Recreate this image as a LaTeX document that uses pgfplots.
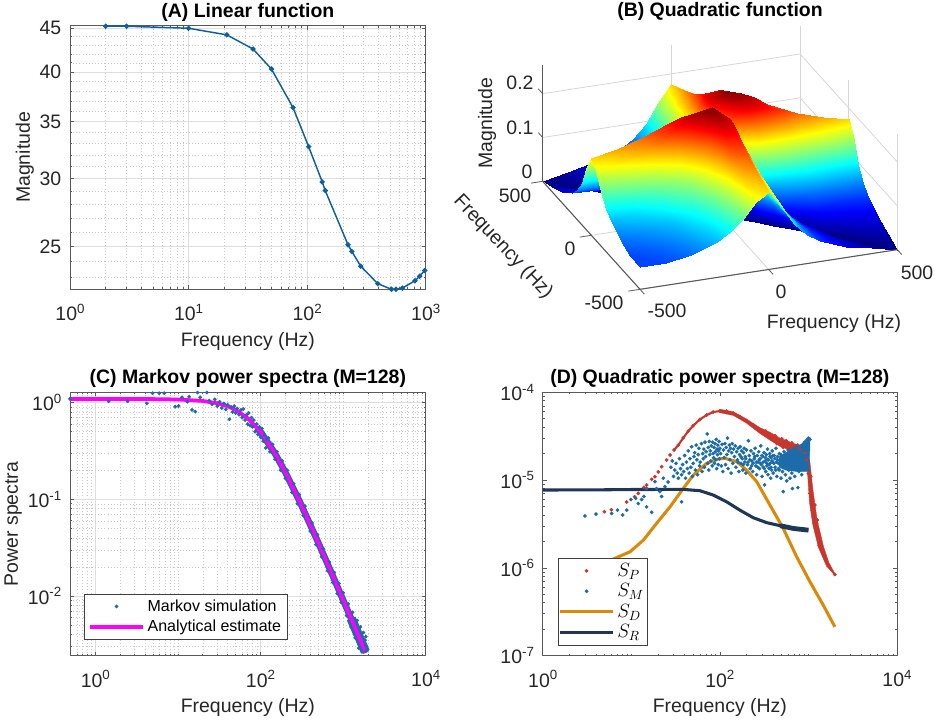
\documentclass[border=0pt]{standalone}
\usepackage{pgfplots}
\usepackage{fontspec}
\setmainfont{Liberation Sans}
\pgfplotsset{compat=1.18}

\definecolor{axgray}{gray}{0.35}
\definecolor{txt}{gray}{0.15}
\definecolor{lineblue}{HTML}{0F5F9E}
\definecolor{dotblue}{HTML}{1B6CA8}
\definecolor{dotred}{HTML}{C8372D}
\definecolor{lineorange}{HTML}{D98A0B}
\definecolor{linenavy}{HTML}{1F3654}
\definecolor{mag}{RGB}{255,0,255}

\newcommand{\lab}{\fontsize{14.6}{16}\selectfont}
\newcommand{\ttl}{\fontsize{14.6}{16}\selectfont\bfseries}
\newcommand{\tp}[1]{10\raisebox{0.72ex}{\fontsize{10}{10}\selectfont #1}}

\pgfplotsset{
  panel/.style={
    scale only axis,
    width=266.8pt, height=197.6pt,
    tick align=inside, ticks=both,
    xtick pos=both, ytick pos=both,
    axis line style={axgray,line width=0.7pt},
    tick style={axgray,line width=0.5pt},
    major tick length=3pt, minor tick length=1.6pt,
    tick label style={font=\lab,text=txt},
    xticklabel style={yshift=-7.5pt},
    yticklabel style={xshift=-3pt},
    xlabel near ticks, ylabel near ticks,
    xlabel style={font=\lab,text=txt,yshift=-1.5pt},
    ylabel style={font=\lab,text=txt,yshift=-2.5pt},
    title style={font=\ttl,yshift=-6.3pt},
    legend image code/.code={\draw[mark repeat=2,mark phase=2,##1] plot coordinates {(0cm,0cm) (0.7cm,0cm) (1.4cm,0cm)};},
  },
  gridded/.style={
    grid=both,
    major grid style={black!13,line width=0.7pt},
    minor grid style={black!22,line width=0.35pt,dotted},
  },
}

\begin{document}
\begin{tikzpicture}[x=0.75pt,y=0.75pt]
\path[use as bounding box] (0,0) rectangle (935,721);

% (A)
\begin{axis}[panel,gridded,at={(52.5pt,323.78pt)},anchor=south west,
  title={(A) Linear function},
  xmode=log, ymode=log, clip=false,
  xmin=1, xmax=1000, ymin=22.28, ymax=45.3,
  xtick={1,10,100,1000},
  xticklabels={\tp{0},\tp{1},\tp{2},\tp{3}},
  minor xtick={2,3,4,5,6,7,8,9,20,30,40,50,60,70,80,90,200,300,400,500,600,700,800,900},
  ytick={25,30,35,40,45}, yticklabels={25,30,35,40,45},
  minor ytick={23,24,26,27,28,29,31,32,33,34,36,37,38,39,41,42,43,44},
  xlabel={Frequency (Hz)}, ylabel={Magnitude}]
\addplot[lineblue,line width=1.1pt,mark=*,mark size=1.35pt] coordinates {
  (2,45.25) (3,45.25) (10,45.0) (21,44.21) (35,42.55) (50,40.32) (76,36.35)
  (103,32.71) (134,29.75) (142,29.07) (221,25.12) (238,24.67) (283,23.71)
  (394,22.62) (514,22.28) (562,22.28) (635,22.35) (813,22.80) (889,23.08) (981,23.44)
};
\end{axis}

% (C)
\begin{axis}[panel,gridded,at={(52.5pt,48.98pt)},anchor=south west,
  title={(C) Markov power spectra (M=128)},
  xmode=log, ymode=log,
  xmin=0.494, xmax=10000, ymin=0.00242, ymax=1.28,
  xtick={1,100,10000},
  xticklabels={\tp{0},\tp{2},\tp{4}},
  minor xtick={0.5,0.6,0.7,0.8,0.9,2,3,4,5,6,7,8,9,10,20,30,40,50,60,70,80,90,200,300,400,500,600,700,800,900,1000,2000,3000,4000,5000,6000,7000,8000,9000},
  ytick={0.01,0.1,1},
  yticklabels={\tp{-2},\tp{-1},\tp{0}},
  minor ytick={0.003,0.004,0.005,0.006,0.007,0.008,0.009,0.02,0.03,0.04,0.05,0.06,0.07,0.08,0.09,0.2,0.3,0.4,0.5,0.6,0.7,0.8,0.9},
  xlabel={Frequency (Hz)}, ylabel={Power spectra},
  legend style={at={(0.039,0.234)},anchor=north west,font=\fontsize{12}{14}\selectfont,
    draw=black!75,fill=white,cells={anchor=west},row sep=1pt},
  legend cell align=left]
% dense part of the cloud
\addplot[dotblue,line width=4.9pt,forget plot] coordinates {
  (90,0.55) (100,0.5) (150,0.297) (200,0.19) (300,0.0939) (500,0.0357)
  (800,0.01423) (1000,0.00909) (1500,0.00409) (1880,0.0026)
};
\addplot[dotblue,line width=7pt,forget plot] coordinates {
  (1250,0.00588) (1500,0.00409) (1860,0.00265)
};
\addplot[only marks,mark=*,mark size=1.2pt,dotblue] coordinates {
  (0.494,1.09) (1.45,1.03) (2.46,1.03) (2.99,1.29) (4.21,0.984) (4.93,1.25)
  (5.94,1.25) (6.83,1.25) (9.28,0.909) (10.2,0.924) (11.2,1.135) (13.7,1.15)
  (14.8,0.84) (16.2,0.807) (17.3,1.27) (18.6,1.135) (22.4,1.27) (13.0,1.02)
  (24,1.05) (26,0.96) (28,1.08) (30,0.92) (32,1.02) (34,0.88) (36,0.98) (38,0.85)
  (40,0.95) (42,0.673) (44,0.9) (46,0.80) (48,0.92) (50,0.78) (52,0.87) (55,0.75)
  (58,0.84) (60,0.70) (62,0.86) (65,0.66) (68,0.75) (70,0.60) (72,0.78) (75,0.58)
  (78,0.70) (80,0.56) (83,0.66) (86,0.50) (90,0.60) (93,0.47) (97,0.56) (100,0.44)
  (104,0.54) (108,0.40) (112,0.46) (116,0.34) (120,0.42) (125,0.43) (130,0.31)
  (140,0.37) (150,0.26) (158,0.31) (175,0.20) (183,0.25) (200,0.165) (210,0.20)
  (240,0.118) (252,0.145) (280,0.09) (295,0.112) (330,0.068) (345,0.085)
  (400,0.047) (420,0.057) (470,0.034) (490,0.043) (550,0.0255) (575,0.031)
  (650,0.0183) (680,0.0225) (750,0.0138) (780,0.0175) (850,0.0106) (890,0.0135)
  (950,0.0086) (1000,0.0108) (1100,0.0063) (1150,0.0083) (1250,0.0048) (1300,0.0068)
  (1400,0.0037) (1480,0.0056) (1550,0.0029) (1620,0.0048) (1700,0.0024) (1760,0.0042)
  (1880,0.0024) (1880,0.0038) (1870,0.0031) (1880,0.0027) (1840,0.0035)
};
\addlegendentry{Markov simulation}
\addplot[mag,line width=2.8pt] coordinates {
  (0.494,1.09) (1,1.09) (5,1.087) (10,1.077) (20,1.04) (30,0.985) (40,0.917)
  (50,0.841) (70,0.69) (100,0.5) (150,0.297) (200,0.19) (300,0.0939)
  (500,0.0357) (800,0.01423) (1000,0.00909) (1500,0.00409) (1880,0.0026)
};
\addlegendentry{Analytical estimate}
\end{axis}

% (D)
\begin{axis}[panel,at={(407.03pt,48.98pt)},anchor=south west,width=265.7pt,
  title={(D) Quadratic power spectra (M=128)},
  xmode=log, ymode=log,
  xmin=1, xmax=10000, ymin=1e-7, ymax=1e-4,
  xtick={1,100,10000},
  xticklabels={\tp{0},\tp{2},\tp{4}},
  minor xtick={2,3,4,5,6,7,8,9,10,20,30,40,50,60,70,80,90,200,300,400,500,600,700,800,900,1000,2000,3000,4000,5000,6000,7000,8000,9000},
  ytick={1e-7,1e-6,1e-5,1e-4},
  yticklabels={\tp{-7},\tp{-6},\tp{-5},\tp{-4}},
  minor ytick={2e-7,3e-7,4e-7,5e-7,6e-7,7e-7,8e-7,9e-7,2e-6,3e-6,4e-6,5e-6,6e-6,7e-6,8e-6,9e-6,2e-5,3e-5,4e-5,5e-5,6e-5,7e-5,8e-5,9e-5},
  xlabel={Frequency (Hz)},
  legend style={at={(0.042,0.372)},anchor=north west,font=\fontsize{14}{15}\selectfont,
    draw=black!75,fill=white,cells={anchor=west},row sep=0pt,inner xsep=0.5pt},
  legend cell align=left]
% dense part of S_P
\addplot[fill=dotred,draw=dotred,line width=0.3pt,forget plot] coordinates {
  (100,6.4e-5) (142,6.0e-5) (200,4.95e-5) (283,3.95e-5) (368,3.5e-5) (478,3.0e-5)
  (600,2.75e-5) (803,2.45e-5) (960,2.2e-5) (1040,1.6e-5) (1120,8e-6) (1250,3.6e-6)
  (1480,1.75e-6) (1700,1.15e-6) (1990,8.6e-7) (1990,8.2e-7) (1600,1.05e-6) (1300,1.7e-6)
  (1120,3.1e-6) (1030,5.5e-6) (990,1e-5) (960,1.6e-5) (900,1.9e-5) (700,2.1e-5)
  (478,2.42e-5) (368,2.85e-5) (283,3.4e-5) (200,4.45e-5) (142,5.45e-5) (100,5.85e-5)
} --cycle;
\addplot[dotred,line width=1.6pt,forget plot] coordinates {
  (30.4,2.2e-5) (34,2.5e-5) (38.7,3.03e-5) (44,3.6e-5) (50,4.16e-5) (59.6,4.9e-5)
  (71,5.5e-5) (84,5.95e-5) (100,6.1e-5)
};
\addplot[only marks,mark=*,mark size=1.2pt,dotred] coordinates {
  (4.97,4.36e-6) (5.96,4.59e-6) (8.87,5.62e-6) (10.9,6.46e-6) (12,7.05e-6) (13.9,8.25e-6)
  (14.9,8.77e-6) (17,1.02e-5) (18.5,1.09e-5) (20.2,1.24e-5) (22,1.42e-5) (25.1,1.69e-5)
  (27.4,1.93e-5) (30.4,2.2e-5) (34,2.5e-5) (38.7,3.03e-5) (44,3.6e-5) (50,4.16e-5)
  (59.6,4.9e-5) (71,5.5e-5) (84,5.95e-5) (100,6.1e-5) (119,6.1e-5) (142,5.75e-5)
  (168,5.27e-5) (200,4.74e-5) (239,4.23e-5) (283,3.71e-5) (337,3.29e-5) (401,3.01e-5)
  (478,2.71e-5) (568,2.53e-5) (676,2.36e-5) (803,2.23e-5) (916,2.01e-5) (955,1.69e-5)
  (1000,1.19e-5) (1040,7.05e-6) (1140,3.83e-6) (1240,2.46e-6) (1470,1.46e-6)
  (1680,1.08e-6) (1990,8.4e-7)
  (330,3.6e-5) (420,3.2e-5) (500,2.95e-5) (560,2.8e-5) (650,2.65e-5) (760,2.5e-5)
  (440,2.6e-5) (520,2.35e-5) (610,2.25e-5) (1060,1.1e-5) (1090,6e-6) (1110,4.5e-6)
  (1180,5.2e-6) (1260,3.5e-6) (1320,1.8e-6)
};
\addlegendentry{$S_P$}
% dense part of S_M
\addplot[fill=dotblue,draw=dotblue,line width=0.3pt,forget plot] coordinates {
  (470,1.85e-5) (550,2.05e-5) (700,2.3e-5) (850,2.6e-5) (950,2.85e-5)
  (1040,3.05e-5) (1040,2.3e-5) (1020,1.5e-5) (990,1.3e-5) (900,1.25e-5) (750,1.25e-5)
  (550,1.3e-5) (470,1.4e-5)
} --cycle;
\addplot[only marks,mark=*,mark size=1.2pt,dotblue] coordinates {
  (3,3.9e-6) (4,4.1e-6) (6,4.17e-6) (7,4.55e-6) (8,4e-6) (8.9,4.55e-6) (9.9,6e-6)
  (11.2,6.2e-6) (12,5.4e-6) (13.1,6e-6) (13.9,6.5e-6) (14.9,4.95e-6) (17,4.3e-6)
  (14.9,8e-6) (19.3,8e-6) (21,7.4e-6) (22,6.5e-6) (24,8.4e-6) (26,9.5e-6) (23,1.05e-5)
  (18.5,9.6e-6) (37,5.65e-6)
  (28,1.4e-5) (29,1.65e-5) (30,1.1e-5) (31,1.3e-5) (32,1.55e-5) (33,1.2e-5) (34,1.05e-5)
  (35,1.75e-5) (36,1.35e-5) (37,1.15e-5) (38,1.5e-5) (39,1.25e-5) (40,1.9e-5) (41,1.05e-5)
  (42,1.6e-5) (43,1.35e-5) (44,2.15e-5) (45,1.2e-5) (46,1.75e-5) (47,1.4e-5) (48,2.4e-5)
  (49,1.1e-5) (50,1.55e-5) (51,1.85e-5) (52,2.05e-5) (53,1.3e-5) (54,2.5e-5) (55,1.7e-5)
  (56,1.15e-5) (57,1.95e-5) (58,2.3e-5) (59,1.45e-5) (60,1.6e-5)
  (62,2.6e-5) (63,1.25e-5) (64,2e-5) (65,1.75e-5) (66,2.25e-5) (67,1.4e-5) (68,2.7e-5)
  (69,1.85e-5) (70,2.1e-5) (72,3.35e-5) (73,1.55e-5) (74,2.35e-5) (75,1.3e-5) (76,2.75e-5)
  (77,1.95e-5) (78,2.15e-5) (79,1.65e-5) (80,2.45e-5) (82,1.45e-5) (83,2.7e-5) (84,2e-5)
  (85,1.8e-5) (86,2.35e-5) (87,1.55e-5) (88,2.6e-5) (89,2.1e-5) (90,1.7e-5) (91,2.9e-5)
  (92,1.35e-5) (93,2.25e-5) (94,1.95e-5) (95,2.5e-5) (96,1.5e-5) (97,2.15e-5) (98,2.75e-5)
  (99,1.75e-5) (100,2.3e-5)
  (102,2e-5) (104,1.45e-5) (106,2.55e-5) (108,1.25e-5) (110,2.2e-5) (112,1.8e-5) (114,2.6e-5)
  (116,1.5e-5) (118,2.35e-5) (120,1.95e-5) (122,3e-5) (124,1.35e-5) (126,2.15e-5) (128,2.5e-5)
  (130,1.7e-5) (132,2.3e-5) (134,1.2e-5) (136,2.05e-5) (138,2.6e-5) (140,1.55e-5) (143,2.25e-5)
  (146,1.85e-5) (149,2.45e-5) (152,1.4e-5) (155,2.1e-5) (158,1.7e-5) (161,2.3e-5) (164,1.25e-5)
  (167,1.95e-5) (170,2.4e-5) (173,1.55e-5) (176,2.15e-5) (179,1.75e-5) (182,1.3e-5) (185,2.05e-5)
  (188,2.3e-5) (191,1.6e-5) (194,1.85e-5) (197,1.2e-5) (200,2.2e-5)
  (205,1.5e-5) (210,2.8e-5) (215,1.9e-5) (220,1.35e-5) (225,2.15e-5) (230,1.65e-5) (235,1.25e-5)
  (240,2e-5) (245,1.75e-5) (250,2.3e-5) (255,1.45e-5) (260,1.15e-5) (265,1.9e-5) (270,1.6e-5)
  (275,2.1e-5) (280,1.35e-5) (285,1.75e-5) (290,2.45e-5) (295,1.5e-5) (300,1.1e-5) (305,1.85e-5)
  (310,1.4e-5) (315,2.05e-5) (320,8.8e-6) (325,1.65e-5) (330,1.25e-5) (335,1.95e-5) (340,1.45e-5)
  (345,2.25e-5) (350,1.15e-5) (355,1.7e-5) (360,1.35e-5) (365,2e-5) (370,1.55e-5) (375,1.05e-5)
  (380,1.8e-5) (385,1.3e-5) (390,2.15e-5) (395,1.6e-5) (400,1.2e-5)
  (410,1.9e-5) (420,1.4e-5) (430,2.3e-5) (440,1.1e-5) (450,1.7e-5) (460,1.35e-5) (470,2e-5)
  (480,1.5e-5) (490,1.05e-5) (500,1.85e-5) (510,1.25e-5) (520,7.4e-6) (530,2.1e-5) (540,1.6e-5)
  (550,1.15e-5) (560,1.9e-5) (570,9.8e-6) (580,1.45e-5) (590,2.2e-5) (600,1.3e-5) (610,1.75e-5)
  (620,1.05e-5) (630,2.05e-5) (640,1.5e-5) (650,1.2e-5) (660,8e-6) (670,2.25e-5) (680,1.35e-5)
  (690,1.8e-5) (700,1.1e-5) (720,2.35e-5) (740,1.55e-5) (760,8.2e-6) (780,1.25e-5) (800,2.4e-5)
  (820,1.7e-5) (840,1.15e-5) (860,2.5e-5) (880,1.4e-5) (900,2.7e-5) (920,1.9e-5) (940,1.3e-5)
  (960,2.85e-5) (980,2.2e-5) (1000,3e-5) (1020,2.95e-5) (1040,2.9e-5) (1000,1.3e-5)
  (160,1.6e-5) (172,1.85e-5) (184,1.5e-5) (196,1.75e-5) (208,1.6e-5) (218,1.7e-5) (228,1.45e-5)
  (238,1.55e-5) (248,1.85e-5) (258,1.6e-5) (268,1.4e-5) (278,1.7e-5) (288,1.55e-5) (298,1.9e-5)
  (308,1.6e-5) (318,1.35e-5) (328,1.8e-5) (338,1.55e-5) (348,1.7e-5) (358,1.5e-5) (368,1.85e-5)
  (378,1.4e-5) (388,1.65e-5) (398,1.9e-5) (408,1.55e-5) (418,1.75e-5) (428,1.3e-5) (438,1.6e-5)
  (448,1.85e-5) (458,1.55e-5) (468,1.3e-5) (478,1.7e-5) (488,1.95e-5) (498,1.45e-5) (508,1.7e-5)
};
\addlegendentry{$S_M$}
\addplot[lineorange,line width=2.3pt] coordinates {
  (3,2.84e-7) (4.84,7.9e-7) (6.27,1.26e-6) (9.68,1.525e-6) (13.7,2.07e-6) (19.3,3.21e-6)
  (27.4,4.96e-6) (38.7,8.04e-6) (50.2,1.14e-5) (71,1.55e-5) (92,1.72e-5) (114,1.77e-5)
  (155,1.62e-5) (200,1.3e-5) (261,9.57e-6) (368,5.19e-6) (520,2.81e-6) (736,1.34e-6)
  (1040,6.95e-7) (1470,3.77e-7) (1990,2.13e-7)
};
\addlegendentry{$S_D$}
\addplot[linenavy,line width=2.3pt] coordinates {
  (1,7.7e-6) (5,7.75e-6) (10,7.8e-6) (38.7,7.83e-6) (59.6,7.56e-6) (84.3,6.75e-6)
  (119,5.66e-6) (168,4.55e-6) (239,3.72e-6) (339,3.27e-6) (480,3.02e-6) (678,2.81e-6)
  (1000,2.69e-6)
};
\addlegendentry{$S_R$}
\addplot[linenavy,line width=3.6pt,forget plot] coordinates {
  (480,3.02e-6) (678,2.81e-6) (1000,2.69e-6)
};
\end{axis}

% (B)
\begin{axis}[at={(540pt,379.13pt)},anchor=origin,
  x={(0.193pt,0.02975pt)}, y={(-0.073pt,0.081pt)}, z={(0pt,328.7pt)},
  xmin=-500, xmax=500, ymin=-500, ymax=500, zmin=0, zmax=0.265,
  xtick={-500,0,500}, ytick={-500,0,500}, ztick={0,0.1,0.2},
  xticklabels={}, yticklabels={}, zticklabels={},
  grid=major, major grid style={black!16,line width=0.6pt},
  axis line style={draw=none}, tick style={draw=none},
  colormap/jet, point meta min=0, point meta max=0.265, clip=false]
\addplot3[surf,shader=interp,z buffer=sort] coordinates {
(-500,-500,.050) (-400,-500,.051) (-300,-500,.061) (-200,-500,.081) (-150,-500,.098) (-100,-500,.124) (-50,-500,.159) (0,-500,.176) (50,-500,.139) (100,-500,.095) (150,-500,.066) (200,-500,.047) (300,-500,.025) (400,-500,.012) (500,-500,0)

(-500,-400,.051) (-400,-400,.058) (-300,-400,.070) (-200,-400,.091) (-150,-400,.110) (-100,-400,.136) (-50,-400,.173) (0,-400,.189) (50,-400,.147) (100,-400,.098) (150,-400,.066) (200,-400,.045) (300,-400,.020) (400,-400,0) (500,-400,.012)

(-500,-300,.061) (-400,-300,.070) (-300,-300,.083) (-200,-300,.107) (-150,-300,.126) (-100,-300,.156) (-50,-300,.193) (0,-300,.206) (50,-300,.155) (100,-300,.099) (150,-300,.062) (200,-300,.038) (300,-300,0) (400,-300,.020) (500,-300,.025)

(-500,-200,.081) (-400,-200,.091) (-300,-200,.107) (-200,-200,.132) (-150,-200,.154) (-100,-200,.185) (-50,-200,.223) (0,-200,.228) (50,-200,.160) (100,-200,.091) (150,-200,.043) (200,-200,0) (300,-200,.038) (400,-200,.045) (500,-200,.047)

(-500,-150,.098) (-400,-150,.110) (-300,-150,.126) (-200,-150,.154) (-150,-150,.176) (-100,-150,.208) (-50,-150,.245) (0,-150,.239) (50,-150,.156) (100,-150,.073) (150,-150,0) (200,-150,.043) (300,-150,.062) (400,-150,.066) (500,-150,.066)

(-500,-100,.124) (-400,-100,.136) (-300,-100,.156) (-200,-100,.185) (-150,-100,.208) (-100,-100,.240) (-50,-100,.258) (0,-100,.244) (50,-100,.132) (100,-100,0) (150,-100,.073) (200,-100,.091) (300,-100,.099) (400,-100,.098) (500,-100,.095)

(-500,-50,.159) (-400,-50,.173) (-300,-50,.193) (-200,-50,.223) (-150,-50,.245) (-100,-50,.258) (-50,-50,.265) (0,-50,.212) (50,-50,0) (100,-50,.132) (150,-50,.156) (200,-50,.160) (300,-50,.155) (400,-50,.147) (500,-50,.139)

(-500,0,.176) (-400,0,.189) (-300,0,.206) (-200,0,.228) (-150,0,.239) (-100,0,.244) (-50,0,.212) (0,0,0) (50,0,.212) (100,0,.244) (150,0,.239) (200,0,.228) (300,0,.206) (400,0,.189) (500,0,.176)

(-500,50,.139) (-400,50,.147) (-300,50,.155) (-200,50,.160) (-150,50,.156) (-100,50,.132) (-50,50,0) (0,50,.212) (50,50,.265) (100,50,.258) (150,50,.245) (200,50,.223) (300,50,.193) (400,50,.173) (500,50,.159)

(-500,100,.095) (-400,100,.098) (-300,100,.099) (-200,100,.091) (-150,100,.073) (-100,100,0) (-50,100,.132) (0,100,.244) (50,100,.258) (100,100,.240) (150,100,.208) (200,100,.185) (300,100,.156) (400,100,.136) (500,100,.124)

(-500,150,.066) (-400,150,.066) (-300,150,.062) (-200,150,.043) (-150,150,0) (-100,150,.073) (-50,150,.156) (0,150,.239) (50,150,.245) (100,150,.208) (150,150,.176) (200,150,.154) (300,150,.126) (400,150,.110) (500,150,.098)

(-500,200,.047) (-400,200,.045) (-300,200,.038) (-200,200,0) (-150,200,.043) (-100,200,.091) (-50,200,.160) (0,200,.228) (50,200,.223) (100,200,.185) (150,200,.154) (200,200,.132) (300,200,.107) (400,200,.091) (500,200,.081)

(-500,300,.025) (-400,300,.020) (-300,300,0) (-200,300,.038) (-150,300,.062) (-100,300,.099) (-50,300,.155) (0,300,.206) (50,300,.193) (100,300,.156) (150,300,.126) (200,300,.107) (300,300,.083) (400,300,.070) (500,300,.061)

(-500,400,.012) (-400,400,0) (-300,400,.020) (-200,400,.045) (-150,400,.066) (-100,400,.098) (-50,400,.147) (0,400,.189) (50,400,.173) (100,400,.136) (150,400,.110) (200,400,.091) (300,400,.070) (400,400,.058) (500,400,.051)

(-500,500,0) (-400,500,.012) (-300,500,.025) (-200,500,.047) (-150,500,.066) (-100,500,.095) (-50,500,.139) (0,500,.176) (50,500,.159) (100,500,.124) (150,500,.098) (200,500,.081) (300,500,.061) (400,500,.051) (500,500,.050)
};
% axis lines and tick stubs
\addplot3[axgray,line width=0.8pt] coordinates {(-500,-500,0) (500,-500,0)};
\addplot3[axgray,line width=0.8pt] coordinates {(-500,-500,0) (-500,500,0)};
\addplot3[axgray,line width=0.8pt] coordinates {(-500,500,0) (-500,500,0.265)};
\addplot3[axgray,line width=0.6pt] coordinates {(-500,-500,0) (-500,-545,0)};
\addplot3[axgray,line width=0.6pt] coordinates {(0,-500,0) (0,-545,0)};
\addplot3[axgray,line width=0.6pt] coordinates {(500,-500,0) (500,-545,0)};
\addplot3[axgray,line width=0.6pt] coordinates {(-500,-500,0) (-545,-500,0)};
\addplot3[axgray,line width=0.6pt] coordinates {(-500,0,0) (-545,0,0)};
\addplot3[axgray,line width=0.6pt] coordinates {(-500,500,0) (-545,500,0)};
\addplot3[axgray,line width=0.6pt] coordinates {(-500,500,0.1) (-500,545,0.1)};
\addplot3[axgray,line width=0.6pt] coordinates {(-500,500,0.2) (-500,545,0.2)};
\end{axis}
\node[font=\ttl] at (720,710) {(B) Quadratic function};
\node[font=\lab,text=txt,rotate=90] at (487,598) {Magnitude};
\node[font=\lab,text=txt,rotate=-46.5] at (503,474) {Frequency (Hz)};
\node[font=\lab,text=txt] at (834,398) {Frequency (Hz)};
\node[font=\lab,text=txt] at (520,638) {0.2};
\node[font=\lab,text=txt] at (520,593) {0.1};
\node[font=\lab,text=txt] at (527,549) {0};
\node[font=\lab,text=txt] at (515,525) {500};
\node[font=\lab,text=txt] at (570,472) {0};
\node[font=\lab,text=txt] at (604,418) {-500};
\node[font=\lab,text=txt] at (667,410) {-500};
\node[font=\lab,text=txt] at (781,429) {0};
\node[font=\lab,text=txt] at (917,448) {500};
\end{tikzpicture}
\end{document}
